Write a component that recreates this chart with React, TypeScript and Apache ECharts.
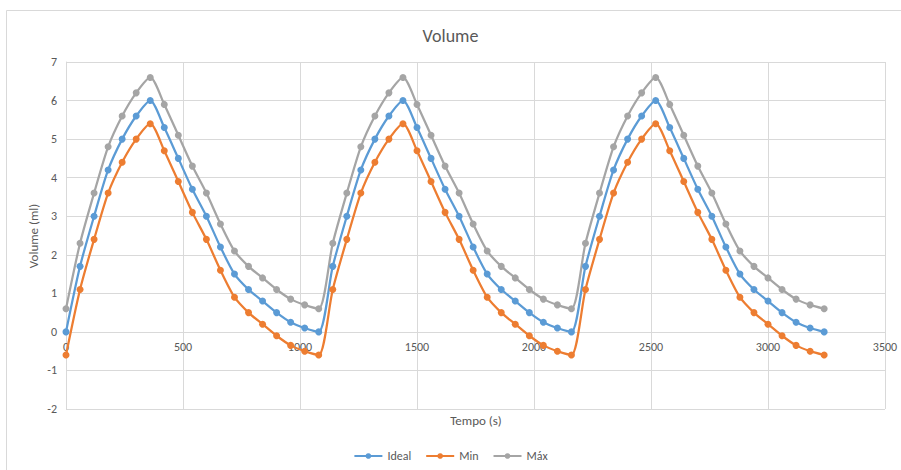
import React, { useEffect, useRef } from "react";
import * as echarts from "echarts";

const timeValues = [
  0, 60, 120, 180, 240, 300, 360, 420, 480, 540, 600, 660, 720, 780, 840, 900, 960, 1020, 1080,
  1140, 1200, 1260, 1320, 1380, 1440, 1500, 1560, 1620, 1680, 1740, 1800, 1860, 1920, 1980, 2040, 2100, 2160,
  2220, 2280, 2340, 2400, 2460, 2520, 2580, 2640, 2700, 2760, 2820, 2880, 2940, 3000, 3060, 3120, 3180, 3240,
];

const idealValues = [
  0, 1.7, 3.0, 4.2, 5.0, 5.6, 6.0, 5.3, 4.5, 3.7, 3.0, 2.2, 1.5, 1.1, 0.8, 0.5, 0.25, 0.1, 0,
  1.7, 3.0, 4.2, 5.0, 5.6, 6.0, 5.3, 4.5, 3.7, 3.0, 2.2, 1.5, 1.1, 0.8, 0.5, 0.25, 0.1, 0,
  1.7, 3.0, 4.2, 5.0, 5.6, 6.0, 5.3, 4.5, 3.7, 3.0, 2.2, 1.5, 1.1, 0.8, 0.5, 0.25, 0.1, 0,
];

const minValues = [
  -0.6, 1.1, 2.4, 3.6, 4.4, 5.0, 5.4, 4.7, 3.9, 3.1, 2.4, 1.6, 0.9, 0.5, 0.2, -0.1, -0.35, -0.5, -0.6,
  1.1, 2.4, 3.6, 4.4, 5.0, 5.4, 4.7, 3.9, 3.1, 2.4, 1.6, 0.9, 0.5, 0.2, -0.1, -0.35, -0.5, -0.6,
  1.1, 2.4, 3.6, 4.4, 5.0, 5.4, 4.7, 3.9, 3.1, 2.4, 1.6, 0.9, 0.5, 0.2, -0.1, -0.35, -0.5, -0.6,
];

const maxValues = [
  0.6, 2.3, 3.6, 4.8, 5.6, 6.2, 6.6, 5.9, 5.1, 4.3, 3.6, 2.8, 2.1, 1.7, 1.4, 1.1, 0.85, 0.7, 0.6,
  2.3, 3.6, 4.8, 5.6, 6.2, 6.6, 5.9, 5.1, 4.3, 3.6, 2.8, 2.1, 1.7, 1.4, 1.1, 0.85, 0.7, 0.6,
  2.3, 3.6, 4.8, 5.6, 6.2, 6.6, 5.9, 5.1, 4.3, 3.6, 2.8, 2.1, 1.7, 1.4, 1.1, 0.85, 0.7, 0.6,
];

const seriesNames = ["Ideal", "Min", "Máx"];
const seriesColors = ["#5B9BD5", "#ED7D31", "#A5A5A5"];

const FONT = "Carlito, Lato, 'Open Sans', sans-serif";
const TEXT = "#595959";
const GRID = "#D9D9D9";

export default function App() {
  const ref = useRef<HTMLDivElement>(null);

  useEffect(() => {
    if (!ref.current) return;
    const chart = echarts.init(ref.current, undefined, { renderer: "svg" });
    const allValues = [idealValues, minValues, maxValues];
    const series = allValues.map((vals, i) => ({
      name: seriesNames[i],
      type: "line",
      data: timeValues.map((t, k) => [t, vals[k]]),
      smooth: 0.25,
      symbol: "circle",
      symbolSize: 7,
      showSymbol: true,
      itemStyle: { color: seriesColors[i] },
      lineStyle: { color: seriesColors[i], width: 2.25 },
    }));

    chart.setOption({
      animation: false,
      textStyle: { fontFamily: FONT },
      title: {
        text: "Volume",
        left: "center",
        top: 22,
        textStyle: { fontFamily: FONT, fontSize: 18, fontWeight: "normal", color: TEXT },
      },
      legend: {
        bottom: 3,
        left: "center",
        itemWidth: 28,
        itemHeight: 7,
        itemGap: 14,
        textStyle: { fontFamily: FONT, fontSize: 12, color: TEXT },
        data: seriesNames,
      },
      grid: { left: 66, right: 16, top: 62, bottom: 61, containLabel: false },
      xAxis: {
        type: "value",
        min: 0,
        max: 3500,
        interval: 500,
        offset: -77,
        axisLine: { show: true, onZero: false, lineStyle: { color: GRID, width: 1 } },
        axisTick: { show: false },
        axisLabel: {
          color: TEXT,
          fontSize: 12,
          fontFamily: FONT,
          margin: 9,
          formatter: (v: number) => String(v),
        },
        splitLine: { show: true, lineStyle: { color: GRID, width: 1 } },
      },
      yAxis: {
        type: "value",
        min: -2,
        max: 7,
        interval: 1,
        axisLine: { show: true, lineStyle: { color: GRID, width: 1 } },
        axisTick: { show: false },
        axisLabel: {
          color: TEXT,
          fontSize: 12,
          fontFamily: FONT,
          margin: 9,
          formatter: (v: number) => String(v),
        },
        splitLine: { show: true, lineStyle: { color: GRID, width: 1 } },
      },
      graphic: [
        {
          type: "rect",
          shape: { x: 6.5, y: 10.5, width: 1000, height: 1000 },
          style: { fill: "none", stroke: GRID, lineWidth: 1 },
          silent: true,
        },
        {
          type: "text",
          x: 476,
          y: 420,
          style: {
            text: "Tempo (s)",
            fill: TEXT,
            font: `13px ${FONT}`,
            align: "center",
            verticalAlign: "middle",
          },
        },
        {
          type: "text",
          x: 33,
          y: 236,
          rotation: Math.PI / 2,
          style: {
            text: "Volume (ml)",
            fill: TEXT,
            font: `13px ${FONT}`,
            align: "center",
            verticalAlign: "middle",
          },
        },
      ],
      series,
    });
    return () => chart.dispose();
  }, []);

  return <div ref={ref} style={{ width: 901, height: 470, position: "absolute", left: 0, top: 0 }} />;
}
